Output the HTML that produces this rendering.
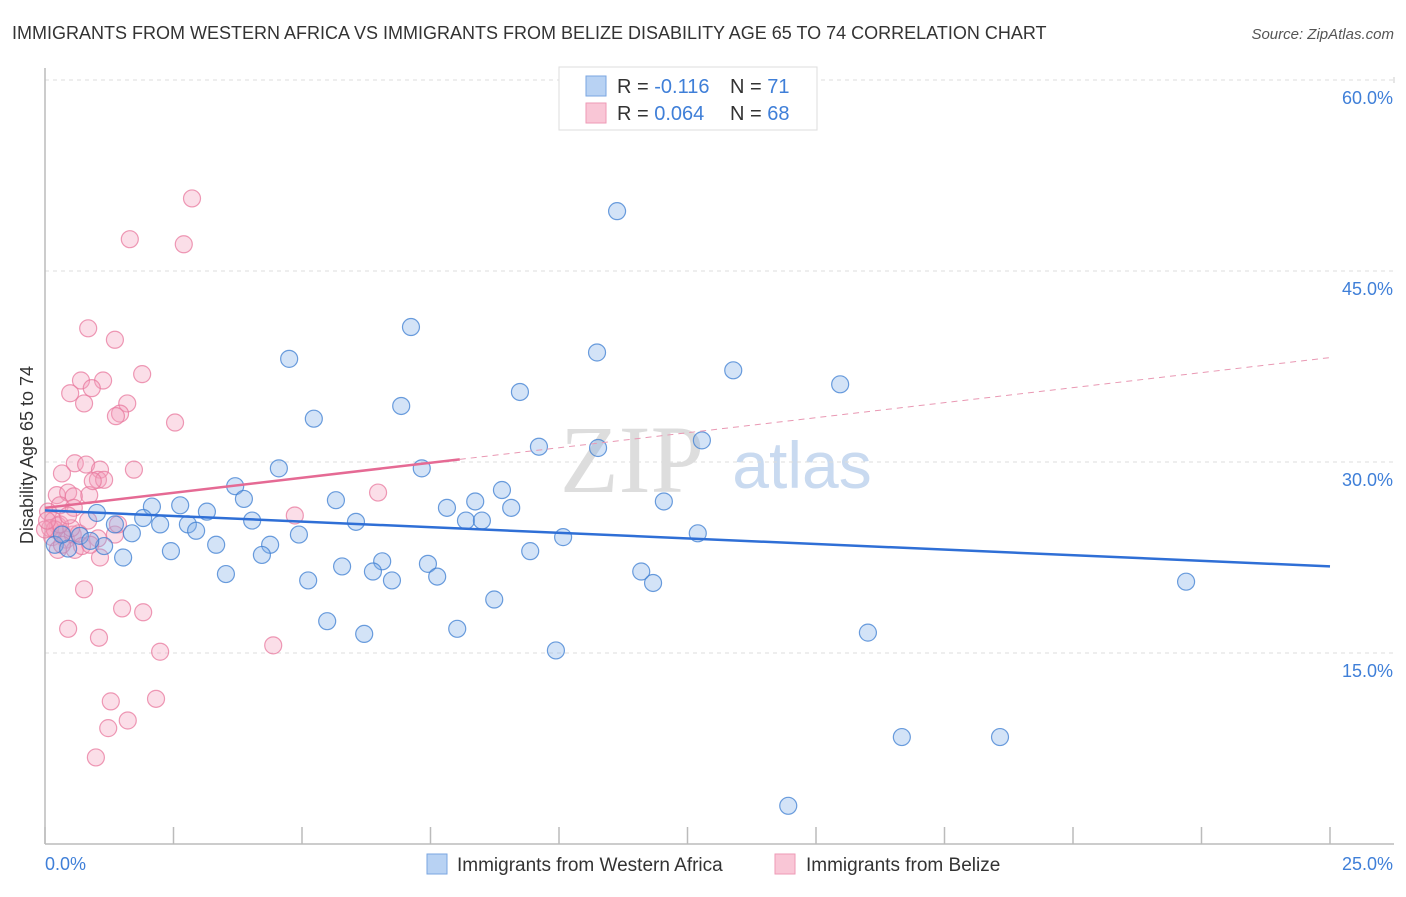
<!DOCTYPE html>
<html><head><meta charset="utf-8"><style>
body{margin:0;background:#fff;font-family:"Liberation Sans",sans-serif;}
</style></head><body>
<svg width="1406" height="892" xmlns="http://www.w3.org/2000/svg" font-family="Liberation Sans, sans-serif">
<text x="12" y="39" font-size="18" fill="#333">IMMIGRANTS FROM WESTERN AFRICA VS IMMIGRANTS FROM BELIZE DISABILITY AGE 65 TO 74 CORRELATION CHART</text>
<text x="1394" y="39" font-size="15" fill="#555" text-anchor="end" font-style="italic">Source: ZipAtlas.com</text>
<g>
<text x="632" y="492" font-size="96" font-family="Liberation Serif, serif" fill="#ddd" text-anchor="middle">ZIP</text>
<text x="802" y="488" font-size="66" fill="#c9daf0" text-anchor="middle">atlas</text>
</g>
<g id="grid"></g>
<g id="axes"></g>
<g id="trend"></g>
<g id="pts"></g>
<text transform="translate(33,455) rotate(-90)" font-size="18" fill="#333" text-anchor="middle">Disability Age 65 to 74</text>
<g>
<rect x="559" y="67" width="258" height="63" fill="#fff" stroke="#ddd"/>
<rect x="586" y="76" width="20" height="20" fill="#b8d2f3" stroke="#7aa6e0"/>
<rect x="586" y="103" width="20" height="20" fill="#f9c6d6" stroke="#ee9ab6"/>
<text x="617" y="93" font-size="20" fill="#333">R = <tspan fill="#3f7fd8">-0.116</tspan></text>
<text x="730" y="93" font-size="20" fill="#333">N = <tspan fill="#3f7fd8"> 71</tspan></text>
<text x="617" y="120" font-size="20" fill="#333">R = <tspan fill="#3f7fd8">0.064</tspan></text>
<text x="730" y="120" font-size="20" fill="#333">N = <tspan fill="#3f7fd8">68</tspan></text>
</g>
<g>
<rect x="427" y="854" width="20" height="20" fill="#b8d2f3" stroke="#7aa6e0"/>
<text x="457" y="871" font-size="19" fill="#333">Immigrants from Western Africa</text>
<rect x="775" y="854" width="20" height="20" fill="#f9c6d6" stroke="#ee9ab6"/>
<text x="806" y="871" font-size="19" fill="#333">Immigrants from Belize</text>
</g>
</svg>
<script>
const yTicks=[15,30,45,60];
const yTickLabels=["15.0%","30.0%","45.0%","60.0%"];
const xTickLabels=["0.0%","25.0%"];
const blueX=[11.13,7.12,4.75,10.74,13.39,15.47,9.24,6.93,5.23,9.61,10.76,12.78,4.55,7.33,3.70,8.89,3.87,5.66,12.04,8.37,7.82,9.07,2.08,2.63,3.15,1.01,4.03,6.05,8.19,8.50,1.91,2.24,2.78,1.36,1.69,2.94,4.94,12.70,10.08,0.68,1.15,3.33,4.38,2.45,9.44,1.52,4.22,6.56,7.45,5.78,6.38,3.52,11.60,7.63,6.75,5.12,11.83,22.20,8.74,5.49,8.02,6.21,16.01,9.94,16.67,18.58,14.46,0.19,0.45,0.33,0.88];
const blueY=[49.7,40.6,38.1,38.6,37.2,36.1,35.5,34.4,33.4,31.2,31.1,31.7,29.5,29.5,28.1,27.8,27.1,27.0,26.9,26.9,26.4,26.4,26.5,26.6,26.1,26.0,25.4,25.3,25.4,25.4,25.6,25.1,25.1,25.1,24.4,24.6,24.3,24.4,24.1,24.2,23.4,23.5,23.5,23.0,23.0,22.5,22.7,22.2,22.0,21.8,21.4,21.2,21.4,21.0,20.7,20.7,20.5,20.6,19.2,17.5,16.9,16.5,16.6,15.2,8.4,8.4,3.0,23.5,23.2,24.3,23.8];
const pinkX=[2.86,1.65,2.70,0.84,1.36,0.70,1.13,1.89,0.49,0.76,0.91,1.60,1.46,1.38,2.53,0.33,0.58,0.80,1.07,1.73,1.03,0.23,0.45,0.86,0.56,1.15,0.93,0.29,0.56,6.48,4.86,0.06,0.16,0.25,0.33,0.14,0.41,0.54,0.10,0.19,0.66,0.84,1.03,1.36,0.25,0.58,1.07,0.33,0.51,0.72,0.76,1.50,1.91,0.45,1.05,2.24,4.44,1.28,2.16,1.23,1.61,0.99,0.29,0.00,0.04,1.42,0.88,0.45];
const pinkY=[50.7,47.5,47.1,40.5,39.6,36.4,36.4,36.9,35.4,34.6,35.8,34.6,33.8,33.6,33.1,29.1,29.9,29.8,29.4,29.4,28.6,27.4,27.6,27.4,27.3,28.6,28.5,26.6,26.4,27.6,25.8,26.1,25.4,25.0,24.4,24.1,23.9,24.3,24.8,24.7,24.4,25.4,24.0,24.3,23.1,23.1,22.5,23.5,24.8,23.4,20.0,18.5,18.2,16.9,16.2,15.1,15.6,11.2,11.4,9.1,9.7,6.8,25.1,24.7,25.4,25.1,23.5,25.8];
const blueTrend=[26.2,21.8];
const pinkTrend=[26.4,38.2];
const pinkSolidEnd=8.07;

const NS="http://www.w3.org/2000/svg";
const X0=45,X1=1330,Y0=844,PX=(X1-X0)/25,PY=191/15;
const sx=v=>X0+v*PX, sy=v=>Y0-v*PY;
function mk(tag,attrs,parent){const e=document.createElementNS(NS,tag);for(const k in attrs)e.setAttribute(k,attrs[k]);parent.appendChild(e);return e;}
const grid=document.getElementById('grid'),axes=document.getElementById('axes'),trend=document.getElementById('trend'),pts=document.getElementById('pts');
yTicks.forEach((t,i)=>{
 const l=mk('line',{x1:X0,x2:1394,y1:sy(t),y2:sy(t),stroke:'#ddd','stroke-dasharray':'4,4'},grid);
 
 
 const tx=mk('text',{x:1393,y:sy(t)+24,'font-size':18,fill:'#3f7fd8','text-anchor':'end'},axes);
 tx.textContent=yTickLabels[i];
 
 
});
mk('line',{x1:1394,x2:1394,y1:sy(60)+3,y2:sy(60)-3,stroke:'#ccc'},grid);
const ya=mk('line',{x1:X0,x2:X0,y1:68,y2:Y0,stroke:'#bbb','stroke-width':1.5},axes);


const xa=mk('line',{x1:X0,x2:1394,y1:Y0,y2:Y0,stroke:'#bbb','stroke-width':1.5},axes);


for(let i=0;i<=10;i++){const x=sx(i*2.5);const t=mk('line',{x1:x,x2:x,y1:Y0,y2:Y0-17,stroke:'#bbb','stroke-width':1.5},axes);
 
 }
[[0,'start',45],[25,'end',1393]].forEach((d,i)=>{const t=mk('text',{x:d[2],y:870,'font-size':18,fill:'#3f7fd8','text-anchor':d[1]},axes);t.textContent=xTickLabels[i];
 
 });
function drawPts(xs,ys,fill,stroke,name){xs.forEach((x,i)=>{const c=mk('circle',{cx:sx(x),cy:sy(ys[i]),r:8.5,fill:fill,stroke:stroke,'stroke-width':1.2},pts);
 
 });}
drawPts(pinkX,pinkY,'rgba(244,160,188,0.35)','rgba(232,120,158,0.75)','belize-point');
drawPts(blueX,blueY,'rgba(130,175,232,0.35)','rgba(60,125,210,0.75)','western-africa-point');
const bt=mk('line',{x1:sx(0),y1:sy(blueTrend[0]),x2:sx(25),y2:sy(blueTrend[1]),stroke:'#2f6fd6','stroke-width':2.5},trend);


const pm=pinkTrend[0]+(pinkTrend[1]-pinkTrend[0])*pinkSolidEnd/25;
const ps=mk('line',{x1:sx(0),y1:sy(pinkTrend[0]),x2:sx(pinkSolidEnd),y2:sy(pm),stroke:'#e56a94','stroke-width':2.5},trend);


const pd=mk('line',{x1:sx(pinkSolidEnd),y1:sy(pm),x2:sx(25),y2:sy(pinkTrend[1]),stroke:'#e998b3','stroke-width':1,'stroke-dasharray':'6,5'},trend);


document.getElementById('pts').before(trend);
pts.parentNode.appendChild(trend);
</script>
</body></html>
